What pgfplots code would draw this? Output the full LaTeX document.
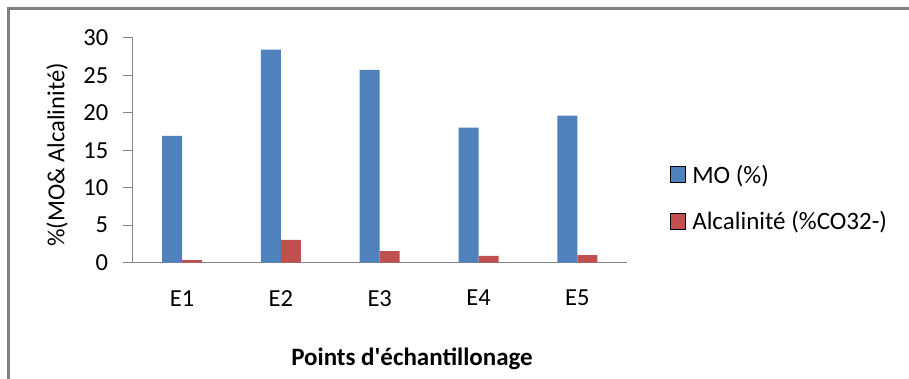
\documentclass[border=0pt]{standalone}
\usepackage{fontspec}
\setmainfont{Carlito}
\newfontfamily\carlplain{Carlito}
\usepackage{pgfplots}
\pgfplotsset{compat=1.18}
\definecolor{moblue}{HTML}{4F81BD}
\definecolor{alcred}{HTML}{C0504D}
\definecolor{axgray}{HTML}{868686}
\definecolor{framegray}{HTML}{808080}
\pgfplotsset{sqlegend/.style={legend image code/.code={\draw[##1] (0pt,-8pt) rectangle (15pt,8pt);}}}
\begin{document}
\begin{tikzpicture}
\begin{axis}[
  at={(0pt,0pt)}, anchor=south west,
  scale only axis, width=494pt, height=225pt,
  ybar=0pt, bar width=20pt,
  ymin=0, ymax=30, ytick={0,5,...,30},
  xmin=-0.5, xmax=4.5, xtick={0,1,2,3,4},
  xticklabels={E1,E2,E3,E4,E5},
  axis lines*=left,
  axis line style={axgray, line width=1.3pt},
  tick align=outside, major tick length=10pt,
  ytick style={axgray, line width=1.3pt},
  xtick style={draw=none},
  /pgf/number format/assume math mode=true,
  tick label style={font=\fontsize{24.5}{28}\selectfont, text=black},
  yticklabel style={xshift=-11pt},
  xticklabel style={yshift=-14pt},
  ylabel={\%(MO\& Alcalinité)},
  ylabel style={at={(axis description cs:-0.1530,0.4787)}, anchor=center, font=\fontsize{24.5}{28}\selectfont},
  xlabel={\textbf{\carlplain Points d'échantillonage}},
  xlabel style={at={(axis description cs:0.5654,-0.459)}, anchor=base, font=\fontsize{25}{28}\selectfont},
  legend style={at={(axis description cs:1.087,0.445)}, anchor=north west, draw=none, fill=none,
    font=\fontsize{25}{28}\selectfont, row sep=23pt, inner sep=0pt,
    /tikz/every odd column/.append style={column sep=5pt}},
  legend cell align=left,
]
\addplot[fill=moblue, draw=none, sqlegend]
  coordinates {(0,16.9) (1,28.4) (2,25.7) (3,18.0) (4,19.6)};
\addplot[fill=alcred, draw=none, sqlegend]
  coordinates {(0,0.35) (1,3.05) (2,1.55) (3,0.9) (4,1.0)};
\legend{MO (\%), Alcalinité (\%CO32-)}
\end{axis}
\draw[framegray, line width=2.6pt] (-124.2pt,-130pt) -- (-124.2pt,254pt) -- (790pt,254pt);
\pgfresetboundingbox
\useasboundingbox (-132.7pt,-115.3pt) rectangle (776.3pt,262.7pt);
\end{tikzpicture}
\end{document}
